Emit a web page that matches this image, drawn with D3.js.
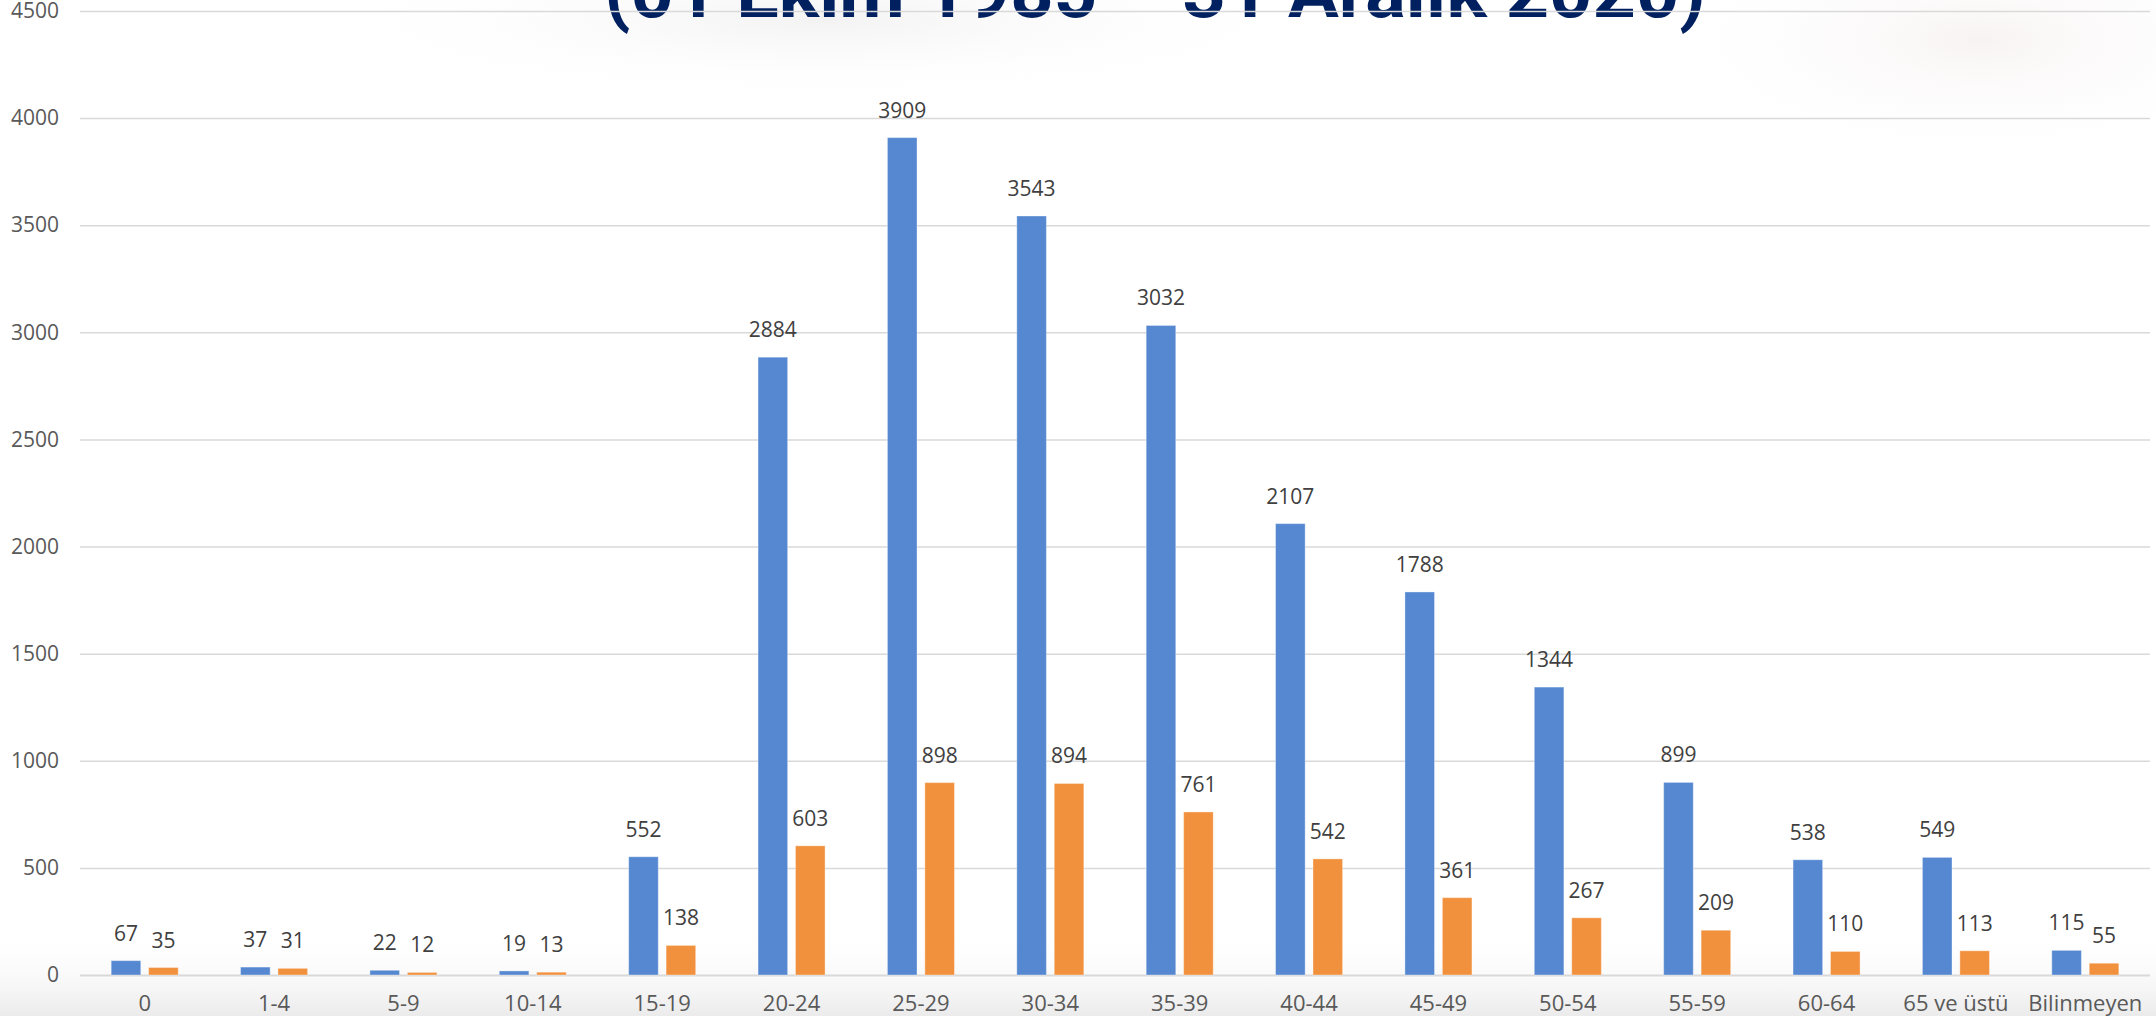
<!DOCTYPE html>
<html lang="tr">
<head>
  <meta charset="UTF-8">
  <title>Yaş grubu dağılımı (01 Ekim 1985 – 31 Aralık 2020)</title>
  <script src="https://d3js.org/d3.v7.min.js"></script>
  <style>
    body { margin: 0; background: #fff; overflow: hidden; }
    svg { display: block; }
  </style>
</head>
<body>
<svg id="chart" width="2156" height="1016"></svg>
<script>
// data
const titleText = "(01 Ekim 1985 – 31 Aralık 2020)";
const ageGroups = ["0", "1-4", "5-9", "10-14", "15-19", "20-24", "25-29", "30-34", "35-39",
  "40-44", "45-49", "50-54", "55-59", "60-64", "65 ve üstü", "Bilinmeyen"];
const blueValues = [67, 37, 22, 19, 552, 2884, 3909, 3543, 3032, 2107, 1788, 1344, 899, 538, 549, 115];
const orangeValues = [35, 31, 12, 13, 138, 603, 898, 894, 761, 542, 361, 267, 209, 110, 113, 55];
const yTicks = [0, 500, 1000, 1500, 2000, 2500, 3000, 3500, 4000, 4500];

const seriesKeys = ["blue", "orange"];
const colors = { blue: "#5588d1", orange: "#f2913d" };

const rows = ageGroups.map((g, i) => ({ group: g, blue: blueValues[i], orange: orangeValues[i] }));

const svg = d3.select("#chart");
const width = +svg.attr("width");
const height = +svg.attr("height");
const margin = { top: 11, right: 6, bottom: 41, left: 80 };
const font = "'Open Sans', 'DejaVu Sans', sans-serif";

// faint background wash, like the slide picture behind the chart
const defs = svg.append("defs");
const bottomGrad = defs.append("linearGradient").attr("id", "bottomWash")
  .attr("x1", 0).attr("y1", 0).attr("x2", 0).attr("y2", 1);
bottomGrad.append("stop").attr("offset", "0%").attr("stop-color", "#ffffff").attr("stop-opacity", 0);
bottomGrad.append("stop").attr("offset", "100%").attr("stop-color", "#ebebeb").attr("stop-opacity", 1);
const topGrad = defs.append("radialGradient").attr("id", "topWash");
topGrad.append("stop").attr("offset", "0%").attr("stop-color", "#f3f3f3");
topGrad.append("stop").attr("offset", "100%").attr("stop-color", "#ffffff").attr("stop-opacity", 0);
const pinkGrad = defs.append("radialGradient").attr("id", "pinkWash");
pinkGrad.append("stop").attr("offset", "0%").attr("stop-color", "#f8f3f3");
pinkGrad.append("stop").attr("offset", "100%").attr("stop-color", "#ffffff").attr("stop-opacity", 0);

svg.append("rect").attr("width", width).attr("height", height).attr("fill", "#fff");
svg.append("ellipse").attr("cx", 820).attr("cy", 20).attr("rx", 520).attr("ry", 80).attr("fill", "url(#topWash)");
svg.append("ellipse").attr("cx", 1980).attr("cy", 40).attr("rx", 320).attr("ry", 120).attr("fill", "url(#pinkWash)");
svg.append("rect").attr("x", 0).attr("y", 930).attr("width", width).attr("height", height - 930)
  .attr("fill", "url(#bottomWash)");

// scales
const x0 = d3.scaleBand()
  .domain(ageGroups)
  .range([margin.left, width - margin.right])
  .paddingInner(0.482)
  .paddingOuter(0.241);

const x1 = d3.scaleBand()
  .domain(seriesKeys)
  .range([0, x0.bandwidth()])
  .paddingInner(0.21);

const y = d3.scaleLinear()
  .domain([0, 4500])
  .range([height - margin.bottom, margin.top]);

const plotRight = 2150;

// title, mostly cut off by the top edge
const title = svg.append("text")
  .attr("x", 1155)
  .attr("y", 17)
  .attr("text-anchor", "middle")
  .attr("fill", "#00205f")
  .style("font-family", "'Liberation Sans Narrow', 'Roboto', sans-serif")
  .style("font-weight", "bold")
  .style("font-size", "80px")
  .text(titleText);
const tw = title.node().getComputedTextLength();
title.style("font-size", (80 * 1102 / tw) + "px");

// gridlines
const grid = svg.append("g")
  .attr("transform", `translate(${margin.left},0)`)
  .call(d3.axisLeft(y).tickValues(yTicks).tickSize(-(plotRight - margin.left)).tickFormat(""));
grid.select(".domain").remove();
grid.selectAll(".tick line")
  .attr("stroke", "#d9d9d9")
  .attr("stroke-width", d => d === 0 ? 2 : 1.5);

// y axis labels
const yAxis = svg.append("g")
  .attr("transform", `translate(${margin.left},0)`)
  .call(d3.axisLeft(y).tickValues(yTicks).tickFormat(d3.format("d")).tickSize(0).tickPadding(21));
yAxis.select(".domain").remove();
yAxis.selectAll("text")
  .attr("fill", "#595959")
  .style("font-family", font)
  .style("font-size", "21px");

// x axis labels
const xAxis = svg.append("g")
  .attr("transform", `translate(0,${y(0)})`)
  .call(d3.axisBottom(x0).tickSize(0).tickPadding(20));
xAxis.select(".domain").remove();
xAxis.selectAll("text")
  .attr("fill", "#595959")
  .style("font-family", font)
  .style("font-size", "22px");

// bars
const groups = svg.append("g")
  .selectAll("g")
  .data(rows)
  .join("g")
  .attr("transform", d => `translate(${x0(d.group)},0)`);

groups.selectAll("rect")
  .data(d => seriesKeys.map(k => ({ key: k, value: d[k] })))
  .join("rect")
  .attr("x", d => x1(d.key))
  .attr("y", d => y(d.value))
  .attr("width", x1.bandwidth())
  .attr("height", d => y(0) - y(d.value))
  .attr("fill", d => colors[d.key])
  .attr("stroke", "rgba(255,255,255,0.35)")
  .attr("stroke-width", 1);

// value labels
groups.selectAll("text")
  .data(d => seriesKeys.map(k => ({ key: k, value: d[k] })))
  .join("text")
  .attr("x", d => x1(d.key) + x1.bandwidth() / 2)
  .attr("y", d => y(d.value) - 20)
  .attr("text-anchor", "middle")
  .attr("fill", "#404040")
  .style("font-family", font)
  .style("font-size", "21px")
  .text(d => d.value);
</script>
</body>
</html>
